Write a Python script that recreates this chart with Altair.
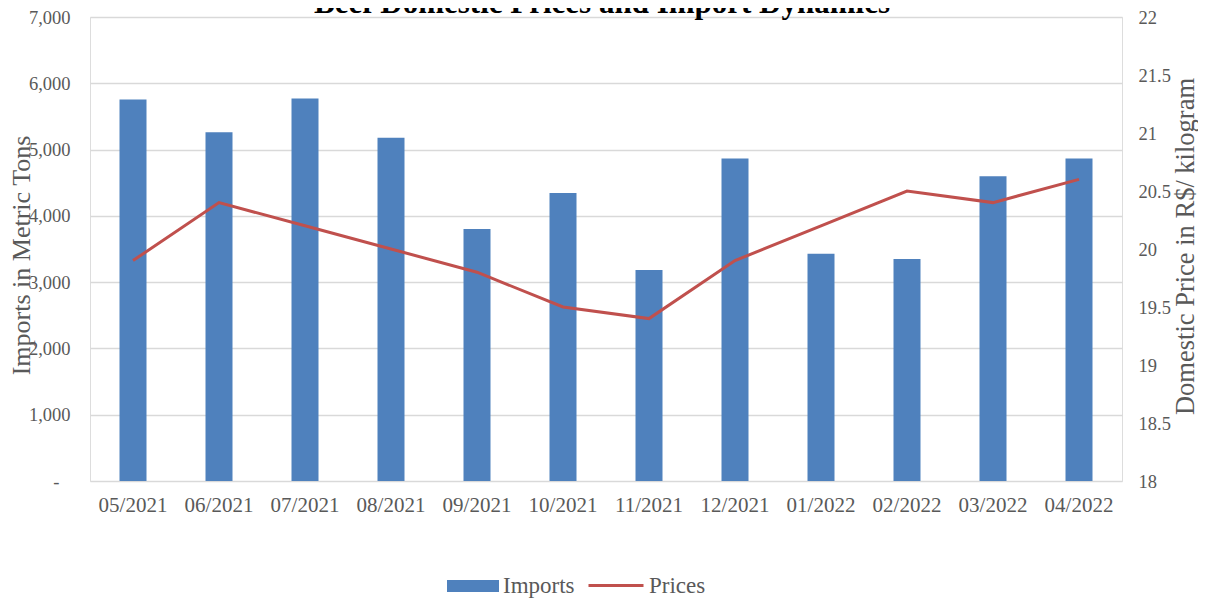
import altair as alt
import pandas as pd

months = ["05/2021", "06/2021", "07/2021", "08/2021", "09/2021", "10/2021",
          "11/2021", "12/2021", "01/2022", "02/2022", "03/2022", "04/2022"]
imports = [5755, 5262, 5770, 5177, 3802, 4346, 3183, 4864, 3429, 3349, 4597, 4864]
prices = [19.9, 20.4, 20.2, 20.0, 19.8, 19.5, 19.4, 19.9, 20.2, 20.5, 20.4, 20.6]
title_text = "Beef Domestic Prices and Import Dynamics"

FONT = "Liberation Serif"
GRAY = "#595959"
BLUE = "#4f81bd"
RED = "#c0504d"

bars_df = pd.DataFrame({"month": months, "value": imports, "series": "Imports"})
line_df = pd.DataFrame({"month": months, "value": prices, "series": "Prices"})
title_df = pd.DataFrame({"t": [title_text]})

W, H = 1032, 464

x_enc = alt.X("month:N", sort=months, title=None,
              scale=alt.Scale(paddingInner=0.686, paddingOuter=0.343),
              axis=alt.Axis(labelAngle=0, ticks=False, domain=False, grid=False,
                            labelFont=FONT, labelFontSize=21, labelColor=GRAY,
                            labelPadding=13))

rect_path = "M-1,-0.23H1V0.23H-1Z"

bar_legend = alt.Legend(
    title=None, orient="none", direction="horizontal",
    legendX=357, legendY=543, padding=0,
    labelFont=FONT, labelFontSize=23, labelColor=GRAY,
    symbolType=rect_path, symbolSize=2704, labelOffset=4,
    symbolStrokeWidth=0,
)
line_legend = alt.Legend(
    title=None, orient="none", direction="horizontal",
    legendX=497, legendY=539.5, padding=0,
    labelFont=FONT, labelFontSize=23, labelColor=GRAY,
    symbolType="stroke", symbolSize=3025, labelOffset=4,
    symbolStrokeWidth=3,
)

bars = alt.Chart(bars_df).mark_bar(size=27).encode(
    x=x_enc,
    y=alt.Y("value:Q", title="Imports in Metric Tons",
            scale=alt.Scale(domain=[0, 7000], nice=False),
            axis=alt.Axis(values=[0, 1000, 2000, 3000, 4000, 5000, 6000, 7000],
                          labelExpr="datum.value == 0 ? '-' : format(datum.value, ',')",
                          ticks=False, domain=False, grid=True,
                          gridColor="#d9d9d9", gridWidth=1.5,
                          labelFont=FONT, labelFontSize=18.5, labelColor=GRAY,
                          labelPadding={"condition": {"test": "datum.value === 0", "value": 31}, "value": 20},
                          titleFont=FONT, titleFontSize=26, titleFontWeight="normal",
                          titleColor=GRAY, titleAngle=270,
                          titleX=-61, titleY=238, titleBaseline="alphabetic",
                          titleAlign="center")),
    fill=alt.Fill("series:N", scale=alt.Scale(domain=["Imports"], range=[BLUE]), legend=bar_legend),
)

line = alt.Chart(line_df).mark_line(strokeWidth=3).encode(
    x=x_enc,
    y=alt.Y("value:Q", title="Domestic Price in R$/ kilogram",
            scale=alt.Scale(domain=[18, 22], nice=False),
            axis=alt.Axis(orient="right", values=[18, 18.5, 19, 19.5, 20, 20.5, 21, 21.5, 22],
                          format="~g",
                          ticks=False, domain=False, grid=False,
                          labelFont=FONT, labelFontSize=18.5, labelColor=GRAY,
                          labelPadding=16,
                          titleFont=FONT, titleFontSize=26.5, titleFontWeight="normal",
                          titleColor=GRAY, titleAngle=270,
                          titleX=71, titleY=229, titleBaseline="alphabetic",
                          titleAlign="center")),
    stroke=alt.Stroke("series:N", scale=alt.Scale(domain=["Prices"], range=[RED]), legend=line_legend),
)

title = alt.Chart(title_df).mark_text(
    font=FONT, fontSize=31, fontWeight="bold", color="#000000",
    baseline="alphabetic", align="center",
).encode(
    text="t:N",
    x=alt.value(512),
    y=alt.value(-4),
)

chart = alt.layer(bars, line, title).resolve_scale(y="independent").properties(
    width=W, height=H,
    autosize=alt.AutoSizeParams(type="none"),
    padding={"left": 82, "top": 9, "right": 76, "bottom": 118},
).configure_view(stroke=None).configure(background="white")

chart.save("out.html", embed_options={"renderer": "svg", "actions": False})
